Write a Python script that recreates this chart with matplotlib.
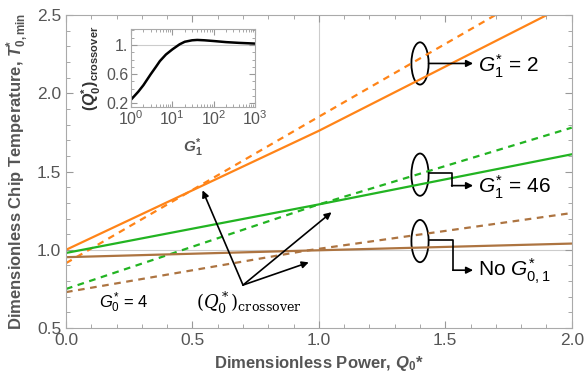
import numpy as np
import matplotlib
matplotlib.use("Agg")
import matplotlib.pyplot as plt
from matplotlib.patches import Ellipse

plt.rcParams['font.family'] = ['Liberation Sans', 'DejaVu Sans']
plt.rcParams['mathtext.fontset'] = 'custom'
plt.rcParams['mathtext.rm'] = 'Liberation Sans'
plt.rcParams['mathtext.it'] = 'Liberation Sans:italic'
plt.rcParams['mathtext.bf'] = 'Liberation Sans:bold'
plt.rcParams['mathtext.bfit'] = 'Liberation Sans:italic:bold'

# main curves (Q0*, T0,min*)
q_pts = [0.0, 1.0, 2.0]
orange_solid = [1.0, 1.76, 2.58]
orange_dash = [0.915, 1.85, 2.78]
green_solid = [0.98, 1.29, 1.61]
green_dash = [0.75, 1.29, 1.78]
q_brown = [0.0, 0.95, 2.0]
brown_solid = [0.953, 0.995, 1.04]
brown_dash = [0.73, 0.995, 1.235]

# inset: crossover power vs G1*
g1 = [1, 1.5, 2, 3, 4, 5, 7, 10, 15, 20, 30, 40, 60, 100, 200, 400, 1000]
q_cross = [0.25, 0.36, 0.45, 0.6, 0.7, 0.78, 0.87, 0.94, 1.01, 1.045, 1.065, 1.07, 1.065, 1.055, 1.04, 1.03, 1.02]

c_or = '#ff8418'
c_gr = '#22b422'
c_br = '#ad7441'
grey = '#555555'

fig = plt.figure(figsize=(5.84, 3.82), dpi=100)
ax = fig.add_axes([0.113, 0.141, 0.866, 0.820])

ax.axhline(1.0, color='#cccccc', lw=0.8, zorder=0)
ax.axvline(1.0, color='#cccccc', lw=0.8, zorder=0)

ax.plot(q_pts, orange_solid, color=c_or, lw=1.6)
ax.plot(q_pts, orange_dash, color=c_or, lw=1.6, ls=(0, (3, 2.5)))
ax.plot(q_pts, green_solid, color=c_gr, lw=1.6)
ax.plot(q_pts, green_dash, color=c_gr, lw=1.6, ls=(0, (3, 2.5)))
ax.plot(q_brown, brown_solid, color=c_br, lw=1.6)
ax.plot(q_brown, brown_dash, color=c_br, lw=1.6, ls=(0, (3, 2.5)))

ax.set_xlim(0, 2.0)
ax.set_ylim(0.5, 2.5)
ax.set_xticks([0.0, 0.5, 1.0, 1.5, 2.0])
ax.set_yticks([0.5, 1.0, 1.5, 2.0, 2.5])
ax.set_xticks(np.arange(0, 2.01, 0.1), minor=True)
ax.set_yticks(np.arange(0.5, 2.51, 0.1), minor=True)
ax.tick_params(which='both', direction='in', top=True, right=True, colors='#999999',
               labelcolor=grey, labelsize=12.5)
ax.tick_params(which='major', length=5)
ax.tick_params(which='minor', length=3)
for s in ax.spines.values():
    s.set_color('#aaaaaa')

ax.set_xlabel(r'Dimensionless Power, $\boldsymbol{Q}_\mathbf{0}$*', fontsize=12, fontweight='bold', color=grey)
ax.set_ylabel(r'Dimensionless Chip Temperature, $\boldsymbol{T}^\mathbf{*}_\mathbf{0,min}$', fontsize=12,
              fontweight='bold', color=grey)

# ellipses + arrows
for yc in [2.19, 1.48, 1.056]:
    ax.add_patch(Ellipse((1.40, yc), 0.068, 0.27, fill=False, ec='k', lw=1.3))
ax.annotate('', xy=(1.61, 2.19), xytext=(1.434, 2.19),
            arrowprops=dict(arrowstyle='-|>', color='k', lw=1.2, mutation_scale=10,
                            shrinkA=0, shrinkB=0))
ax.plot([1.434, 1.525, 1.525], [1.49, 1.49, 1.41], color='k', lw=1.2)
ax.annotate('', xy=(1.61, 1.41), xytext=(1.525, 1.41),
            arrowprops=dict(arrowstyle='-|>', color='k', lw=1.2, mutation_scale=10,
                            shrinkA=0, shrinkB=0))
ax.plot([1.434, 1.53, 1.53], [1.06, 1.06, 0.87], color='k', lw=1.2)
ax.annotate('', xy=(1.61, 0.87), xytext=(1.53, 0.87),
            arrowprops=dict(arrowstyle='-|>', color='k', lw=1.2, mutation_scale=10,
                            shrinkA=0, shrinkB=0))

ax.text(1.63, 2.17, r'$\mathit{G}_1^{*}$ = 2', fontsize=15, va='center')
ax.text(1.63, 1.40, r'$\mathit{G}_1^{*}$ = 46', fontsize=15, va='center')
ax.text(1.63, 0.86, r'No $\mathit{G}_{0,1}^{*}$', fontsize=15, va='center')

# crossover arrows
vx, vy = 0.70, 0.775
for tx, ty in [(0.54, 1.38), (1.05, 1.24), (0.96, 0.92)]:
    ax.annotate('', xy=(tx, ty), xytext=(vx, vy),
                arrowprops=dict(arrowstyle='-|>', color='k', lw=1.2, mutation_scale=10,
                                shrinkA=0, shrinkB=0))
ax.text(0.515, 0.66, r'$(Q_0^*)_{\mathrm{crossover}}$', fontsize=13, va='center',
        math_fontfamily='dejavuserif')
ax.text(0.13, 0.66, r'$\mathit{G}_0^{*}$ = 4', fontsize=12, va='center')

# inset
ins = fig.add_axes([131 / 584, 1 - 107 / 382, 124 / 584, 78 / 382])
ins.axhline(1.0, color='#cccccc', lw=0.8, zorder=0)
ins.plot(g1, q_cross, color='k', lw=1.8)
ins.set_xscale('log')
ins.set_xlim(1, 1000)
ins.set_ylim(0.15, 1.22)
ins.set_yticks([0.2, 0.6, 1.0])
ins.set_yticklabels(['0.2', '0.6', '1.'])
ins.set_yticks(np.arange(0.2, 1.21, 0.1), minor=True)
ins.tick_params(which='both', direction='in', top=True, right=True, colors='#999999',
                labelcolor=grey, labelsize=11.5, pad=2)
ins.tick_params(which='major', length=4)
ins.tick_params(which='minor', length=2)
for s in ins.spines.values():
    s.set_color('#aaaaaa')
ins.set_ylabel(r'$\mathbf{(}\boldsymbol{Q}_\mathbf{0}^\mathbf{*}\mathbf{)_{crossover}}$', fontsize=11.5,
               color='#333333', labelpad=2)
ins.set_xlabel(r'$\boldsymbol{G}_\mathbf{1}^\mathbf{*}$', fontsize=11, color=grey, labelpad=6)

fig.savefig('out.png', dpi=100)
